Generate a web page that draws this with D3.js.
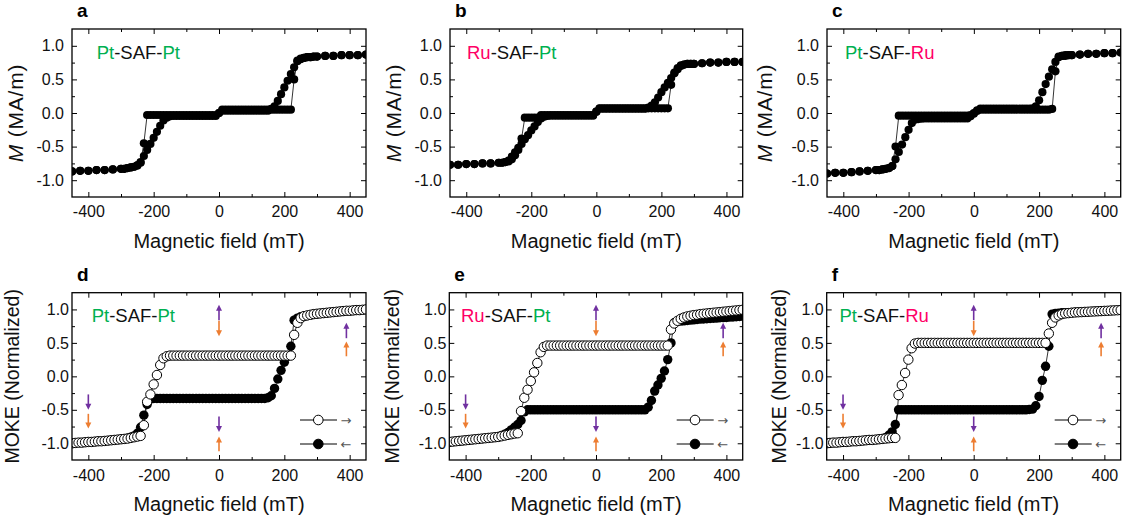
<!DOCTYPE html>
<html>
<head>
<meta charset="utf-8">
<script src="https://cdn.jsdelivr.net/npm/d3@7"></script>
<style>
  body { margin: 0; background: #fff; }
  text { font-family: "Liberation Sans", Arial, sans-serif; }
</style>
</head>
<body>
<script>
// SQUID field grid (mT) and magnetisation branches (MA/m)
const fieldM = [-450,-425,-400,-375,-350,-325,-300,-290,-280,-270,-260,-250,-240,-230,-220,-210,-200,-190,-180,-170,
  -160,-150,-140,-130,-120,-110,-100,-90,-80,-70,-60,-50,-40,-30,-20,-10,0,10,20,30,
  40,50,60,70,80,90,100,110,120,130,140,150,160,170,180,190,200,210,220,230,
  240,250,260,270,280,290,300,325,350,375,400,425,450];

const aUp = [-0.87,-0.86,-0.86,-0.85,-0.85,-0.84,-0.83,
  -0.83,-0.82,-0.81,-0.80,-0.78,
  -0.73,-0.64,-0.55,-0.46,-0.37,-0.28,-0.19,-0.11,-0.07,-0.05,
  -0.045,-0.045,-0.045,-0.045,-0.045,-0.045,-0.045,-0.045,-0.045,-0.045,-0.045,-0.045,-0.045,-0.045,
  0.0,
  0.05,0.05,0.05,0.05,0.05,0.05,0.05,0.05,0.05,0.05,0.05,0.05,0.05,0.05,0.05,0.05,0.05,0.05,0.05,0.05,0.05,0.05,
  0.50,0.78,0.81,0.82,0.83,0.83,0.84,0.84,
  0.85,0.85,0.86,0.86,0.86,0.87];
const aDown = [-0.87,-0.86,-0.86,-0.85,-0.85,-0.84,-0.83,-0.83,-0.82,-0.81,-0.80,
  -0.78,-0.74,-0.45,-0.03,
  -0.03,-0.03,-0.03,-0.03,-0.03,-0.03,-0.03,-0.03,-0.03,-0.03,-0.03,-0.03,-0.03,-0.03,-0.03,-0.03,-0.03,-0.03,-0.03,-0.03,-0.03,
  0.0,
  0.035,0.035,0.035,0.035,0.035,0.035,0.035,0.035,0.035,0.035,0.035,0.035,0.035,0.035,0.035,
  0.06,0.10,0.18,0.28,0.38,0.48,0.58,0.68,0.77,0.80,0.82,0.83,0.83,0.84,0.84,
  0.85,0.85,0.86,0.86,0.86,0.87];

const bUp = [-0.77,-0.77,-0.76,-0.76,-0.75,-0.75,-0.74,
  -0.74,-0.73,-0.71,-0.65,-0.585,
  -0.52,-0.46,-0.39,-0.33,-0.26,-0.20,-0.135,-0.08,-0.055,-0.045,
  -0.04,-0.04,-0.04,-0.04,-0.04,-0.04,-0.04,-0.04,-0.04,-0.04,-0.04,-0.04,-0.04,-0.04,
  0.02,
  0.07,0.07,0.07,0.07,0.07,0.07,0.07,0.07,0.07,0.07,0.07,0.07,0.07,0.07,0.07,0.07,0.07,0.07,0.07,0.07,0.07,0.07,
  0.42,0.60,0.67,0.71,0.72,0.73,0.73,0.73,
  0.74,0.75,0.75,0.76,0.76,0.76];
const bDown = [-0.77,-0.77,-0.76,-0.76,-0.75,-0.75,-0.74,-0.74,-0.73,-0.72,-0.69,
  -0.63,-0.55,-0.38,-0.07,
  -0.07,-0.07,-0.07,-0.07,
  -0.03,-0.03,-0.03,-0.03,-0.03,-0.03,-0.03,-0.03,-0.03,-0.03,-0.03,-0.03,-0.03,-0.03,-0.03,-0.03,-0.03,
  0.02,
  0.065,0.065,0.065,0.065,0.065,0.065,0.065,0.065,0.065,0.065,0.065,0.065,0.065,0.065,0.065,
  0.08,0.11,0.16,0.23,0.31,0.38,0.45,0.52,0.59,0.65,0.70,0.72,0.73,0.73,0.73,
  0.74,0.75,0.75,0.76,0.76,0.76];

const cUp = [-0.90,-0.89,-0.89,-0.88,-0.87,-0.86,-0.85,
  -0.85,-0.84,-0.83,-0.82,-0.79,
  -0.69,-0.58,-0.47,-0.36,-0.25,-0.15,-0.10,-0.09,-0.085,-0.08,
  -0.08,-0.08,-0.08,-0.08,-0.08,-0.08,-0.08,-0.08,-0.08,-0.08,-0.08,-0.08,-0.08,
  -0.05,-0.01,0.03,
  0.05,0.05,0.05,0.05,0.05,0.05,0.05,0.05,0.05,0.05,0.05,0.05,0.05,0.05,0.05,0.05,0.05,0.05,0.05,0.05,0.05,0.05,
  0.06,0.62,0.84,0.85,0.86,0.86,0.86,
  0.87,0.88,0.88,0.89,0.89,0.90];
const cDown = [-0.90,-0.89,-0.89,-0.88,-0.87,-0.86,-0.85,-0.85,-0.84,-0.83,
  -0.82,-0.79,-0.50,-0.04,
  -0.04,-0.04,-0.04,-0.04,-0.04,-0.04,-0.04,-0.04,-0.04,-0.04,-0.04,-0.04,-0.04,-0.04,-0.04,-0.04,-0.04,-0.04,-0.04,-0.04,-0.04,
  -0.03,0.00,0.04,
  0.065,0.065,0.065,0.065,0.065,0.065,0.065,0.065,0.065,0.065,0.065,0.065,0.065,0.065,0.065,0.065,
  0.07,0.10,0.19,0.31,0.43,0.54,0.65,0.76,0.83,0.85,0.85,0.86,0.86,
  0.87,0.88,0.88,0.89,0.89,0.90];

// MOKE field grid (mT) and normalised branches
const fieldK = [-450,-440,-430,-420,-410,-400,-390,-380,-370,-360,-350,-340,-330,-320,-310,-300,-290,-280,-270,-260,
  -250,-240,-230,-220,-210,-200,-190,-180,-170,-160,-150,-140,-130,-120,-110,-100,-90,-80,-70,-60,
  -50,-40,-30,-20,-10,0,10,20,30,40,50,60,70,80,90,100,110,120,130,140,
  150,160,170,180,190,200,210,220,230,240,250,260,270,280,290,300,310,320,330,340,
  350,360,370,380,390,400,410,420,430,440,450];

const dUp = [-1.00,-0.995,-0.99,-0.99,-0.985,-0.98,-0.98,-0.975,-0.97,-0.97,-0.965,-0.96,-0.955,-0.95,-0.945,-0.94,-0.935,-0.93,-0.92,-0.91,-0.90,-0.89,
  -0.73,-0.38,-0.27,-0.12,0.02,0.17,0.27,0.30,0.31,
  0.31,0.31,0.31,0.31,0.31,0.31,0.31,0.31,0.31,0.31,
  0.31,0.31,0.31,0.31,0.31,0.31,0.31,0.31,0.31,0.31,
  0.31,0.31,0.31,0.31,0.31,0.31,0.31,0.31,0.31,0.31,
  0.31,0.31,0.31,0.31,0.31,0.31,0.31,
  0.62,0.80,0.87,0.90,0.91,0.92,0.93,0.935,0.94,0.945,0.95,0.955,0.96,0.965,0.97,0.975,0.98,0.98,0.985,0.99,0.99,0.995,1.00];
const dDown = [-1.00,-0.995,-0.99,-0.99,-0.985,-0.98,-0.98,-0.975,-0.97,-0.97,-0.965,-0.96,-0.955,-0.95,-0.945,-0.94,-0.935,
  -0.925,-0.91,-0.89,-0.85,-0.76,-0.58,-0.42,-0.34,
  -0.33,-0.33,-0.33,-0.33,-0.33,-0.33,-0.33,-0.33,-0.33,-0.33,
  -0.33,-0.33,-0.33,-0.33,-0.33,-0.33,-0.33,-0.33,-0.33,-0.33,
  -0.33,-0.33,-0.33,-0.33,-0.33,-0.33,-0.33,-0.33,-0.33,-0.33,
  -0.33,-0.33,-0.33,-0.33,-0.33,
  -0.32,-0.29,-0.18,-0.04,0.09,0.21,0.30,0.45,0.84,0.87,0.89,0.90,
  0.91,0.92,0.93,0.935,0.94,0.945,0.95,0.955,0.96,0.965,0.97,0.975,0.98,0.98,0.985,0.99,0.99,0.995,1.00];

const eUp = [-0.98,-0.975,-0.97,-0.965,-0.96,-0.955,-0.95,-0.945,-0.94,-0.935,-0.93,-0.925,-0.92,-0.915,-0.91,-0.905,-0.895,-0.885,-0.875,-0.865,-0.855,-0.85,
  -0.52,-0.32,-0.20,-0.07,0.06,0.20,0.36,0.44,0.46,
  0.46,0.46,0.46,0.46,0.46,0.46,0.46,0.46,0.46,0.46,
  0.46,0.46,0.46,0.46,0.46,0.46,0.46,0.46,0.46,0.46,
  0.46,0.46,0.46,0.46,0.46,0.46,0.46,0.46,0.46,0.46,
  0.46,0.46,0.46,0.46,0.46,0.46,0.46,
  0.70,0.79,0.83,0.86,0.88,0.895,0.905,0.915,0.92,0.93,0.935,0.94,0.945,0.95,0.955,0.96,0.965,0.97,0.975,0.98,0.985,0.99,0.995];
const eDown = [-0.98,-0.975,-0.97,-0.965,-0.96,-0.955,-0.95,-0.945,-0.94,-0.935,-0.93,-0.925,-0.92,-0.915,-0.91,
  -0.90,-0.885,-0.865,-0.84,-0.80,-0.76,-0.72,-0.66,-0.53,-0.50,
  -0.50,-0.50,-0.50,-0.50,-0.50,-0.50,-0.50,-0.50,-0.50,-0.50,
  -0.50,-0.50,-0.50,-0.50,-0.50,-0.50,-0.50,-0.50,-0.50,-0.50,
  -0.50,-0.50,-0.50,-0.50,-0.50,-0.50,-0.50,-0.50,-0.50,-0.50,
  -0.50,-0.50,-0.50,-0.50,-0.50,-0.50,
  -0.46,-0.36,-0.22,-0.13,-0.03,0.08,0.25,0.50,0.80,0.82,0.825,0.83,0.835,0.84,0.845,0.85,0.855,0.858,0.86,0.865,
  0.868,0.87,0.875,0.878,0.88,0.885,0.888,0.89,0.895,0.90];

const fUp = [-1.00,-0.995,-0.99,-0.99,-0.985,-0.98,-0.98,-0.975,-0.97,-0.97,-0.965,-0.96,-0.955,-0.95,-0.95,-0.945,-0.94,-0.935,-0.93,-0.925,-0.92,-0.92,
  -0.28,-0.13,0.05,0.25,0.42,0.49,0.50,
  0.50,0.50,0.50,0.50,0.50,0.50,0.50,0.50,0.50,0.50,
  0.50,0.50,0.50,0.50,0.50,0.50,0.50,0.50,0.50,0.50,
  0.50,0.50,0.50,0.50,0.50,0.50,0.50,0.50,0.50,0.50,
  0.50,0.50,0.50,0.50,0.50,0.50,0.50,0.50,0.50,
  0.64,0.80,0.88,0.91,0.93,0.94,0.945,0.95,0.955,0.958,0.96,0.963,0.965,0.968,0.97,0.973,0.975,0.978,0.98,0.983,0.985,0.988,0.99];
const fDown = [-1.00,-0.995,-0.99,-0.99,-0.985,-0.98,-0.98,-0.975,-0.97,-0.97,-0.965,-0.96,-0.955,-0.95,-0.95,-0.945,-0.94,-0.935,
  -0.915,-0.88,-0.83,-0.72,-0.50,
  -0.50,-0.50,-0.50,-0.50,-0.50,-0.50,-0.50,-0.50,-0.50,-0.50,
  -0.50,-0.50,-0.50,-0.50,-0.50,-0.50,-0.50,-0.50,-0.50,-0.50,
  -0.50,-0.50,-0.50,-0.50,-0.50,-0.50,-0.50,-0.50,-0.50,-0.50,
  -0.50,-0.50,-0.50,-0.50,-0.50,-0.50,-0.50,-0.50,-0.50,
  -0.495,-0.49,-0.44,-0.30,-0.06,0.15,0.45,0.93,0.94,
  0.945,0.95,0.95,0.952,0.955,0.958,0.96,0.962,0.965,0.967,0.97,0.972,0.975,0.977,0.98,0.982,0.984,0.986,0.988,0.99];

// ticks
const xMajor = [-400, -200, 0, 200, 400];
const xMinor = [-300, -100, 100, 300];
const yMajor = [-1, -0.5, 0, 0.5, 1];
const yMinor = [-0.75, -0.25, 0.25, 0.75];

// field-direction arrows drawn in the MOKE panels (field, start, end, colour)
const arrowField = [-400, -400, 0, 0, 0, 0, 390, 390];
const arrowStart = [-0.27, -0.56, 0.84, 0.83, -0.60, -1.12, 0.57, 0.30];
const arrowEnd   = [-0.50, -0.78, 1.07, 0.60, -0.83, -0.90, 0.80, 0.52];
const arrowKind  = ['top', 'bottom', 'top', 'bottom', 'top', 'bottom', 'top', 'bottom'];

const GREEN = '#00b050', PINK = '#ff0066', PURPLE = '#7030a0', ORANGE = '#ed7d31';
const PT = ['Pt', GREEN], RU = ['Ru', PINK], SAF = ['-SAF-', '#111'];

const panels = [
  {id: 'a', x0: 72, x1: 366, y0: 29, y1: 197, field: fieldM, up: aUp, down: aDown, moke: false,
    label: [PT, SAF, PT], lx: 24.7, ytx: 16, gap: 8},
  {id: 'b', x0: 450, x1: 742.7, y0: 29, y1: 197, field: fieldM, up: bUp, down: bDown, moke: false,
    label: [RU, SAF, PT], lx: 17, ytx: 394, gap: 8},
  {id: 'c', x0: 827, x1: 1120.7, y0: 29, y1: 197, field: fieldM, up: cUp, down: cDown, moke: false,
    label: [PT, SAF, RU], lx: 18, ytx: 765, gap: 8},
  {id: 'd', x0: 72, x1: 366, y0: 292.7, y1: 460, field: fieldK, up: dUp, down: dDown, moke: true,
    label: [PT, SAF, PT], lx: 19.7, ytx: 12, gap: 3},
  {id: 'e', x0: 449.3, x1: 742.7, y0: 292.7, y1: 460, field: fieldK, up: eUp, down: eDown, moke: true,
    label: [RU, SAF, PT], lx: 11.7, ytx: 392, gap: 3},
  {id: 'f', x0: 826.7, x1: 1120.7, y0: 292.7, y1: 460, field: fieldK, up: fUp, down: fDown, moke: true,
    label: [PT, SAF, RU], lx: 12.7, ytx: 779, gap: 3}
];

const svg = d3.select('body')
  .append('svg')
  .attr('width', 1126)
  .attr('height', 525);

const defs = svg.append('defs');

panels.forEach(p => {
  const x = d3.scaleLinear().domain([-450, 450]).range([p.x0, p.x1]);
  const y = d3.scaleLinear().domain([-1.25, 1.25]).range([p.y1, p.y0]);
  const g = svg.append('g').attr('class', 'panel-' + p.id);

  defs.append('clipPath').attr('id', 'clip-' + p.id)
    .append('rect')
    .attr('x', p.x0).attr('y', p.y0)
    .attr('width', p.x1 - p.x0).attr('height', p.y1 - p.y0);

  // axes, ticks pointing inwards on all four sides
  const bottomPad = p.moke ? 10 : 8.5;
  g.append('g').attr('transform', `translate(0,${p.y1})`)
    .call(d3.axisBottom(x).tickValues(xMajor).tickSize(-5).tickPadding(bottomPad).tickFormat(d => String(d)));
  g.append('g').attr('transform', `translate(0,${p.y1})`)
    .call(d3.axisBottom(x).tickValues(xMinor).tickSize(-3).tickFormat(''));
  g.append('g').attr('transform', `translate(0,${p.y0})`)
    .call(d3.axisTop(x).tickValues(xMajor).tickSize(-5).tickFormat(''));
  g.append('g').attr('transform', `translate(0,${p.y0})`)
    .call(d3.axisTop(x).tickValues(xMinor).tickSize(-3).tickFormat(''));
  g.append('g').attr('transform', `translate(${p.x0},0)`)
    .call(d3.axisLeft(y).tickValues(yMajor).tickSize(-5).tickPadding(p.gap).tickFormat(d => d.toFixed(1)));
  g.append('g').attr('transform', `translate(${p.x0},0)`)
    .call(d3.axisLeft(y).tickValues(yMinor).tickSize(-3).tickFormat(''));
  g.append('g').attr('transform', `translate(${p.x1},0)`)
    .call(d3.axisRight(y).tickValues(yMajor).tickSize(-5).tickFormat(''));
  g.append('g').attr('transform', `translate(${p.x1},0)`)
    .call(d3.axisRight(y).tickValues(yMinor).tickSize(-3).tickFormat(''));

  g.selectAll('.domain').remove();
  g.selectAll('.tick line').attr('stroke', '#000').attr('stroke-width', 1);
  g.selectAll('.tick text').attr('fill', '#111').style('font-size', '16px')
    .style('font-family', '"Liberation Sans", Arial, sans-serif');

  // data
  const plot = g.append('g').attr('clip-path', `url(#clip-${p.id})`);
  const line = d3.line().x((d, i) => x(p.field[i])).y(d => y(d));
  [p.down, p.up].forEach(s => {
    plot.append('path').datum(s)
      .attr('d', line)
      .attr('fill', 'none')
      .attr('stroke', '#000')
      .attr('stroke-width', 0.8);
  });

  const r = p.moke ? 4.7 : 4.1;
  plot.append('g').selectAll('circle')
    .data(p.down)
    .join('circle')
    .attr('cx', (d, i) => x(p.field[i]))
    .attr('cy', d => y(d))
    .attr('r', r)
    .attr('fill', '#000');

  plot.append('g').selectAll('circle')
    .data(p.up)
    .join('circle')
    .attr('cx', (d, i) => x(p.field[i]))
    .attr('cy', d => y(d))
    .attr('r', r)
    .attr('fill', p.moke ? '#fff' : '#000')
    .attr('stroke', p.moke ? '#000' : 'none')
    .attr('stroke-width', 1);

  // frame
  g.append('rect')
    .attr('x', p.x0).attr('y', p.y0)
    .attr('width', p.x1 - p.x0).attr('height', p.y1 - p.y0)
    .attr('fill', 'none').attr('stroke', '#000').attr('stroke-width', 1.3);

  // panel letter
  g.append('text')
    .attr('x', p.x0 + 5).attr('y', p.y0 - 12)
    .style('font-size', '19px').style('font-weight', 'bold')
    .text(p.id);

  // stack label
  const lab = g.append('text')
    .attr('x', p.x0 + p.lx).attr('y', p.y0 + 29.5)
    .style('font-size', '18.5px');
  p.label.forEach(([t, c]) => lab.append('tspan').attr('fill', c).text(t));

  // axis titles
  g.append('text')
    .attr('x', (p.x0 + p.x1) / 2).attr('y', p.y1 + 51)
    .attr('text-anchor', 'middle')
    .style('font-size', '20px').attr('fill', '#111')
    .text('Magnetic field (mT)');

  const yt = g.append('text')
    .attr('transform', `translate(${p.ytx + 7},${(p.y0 + p.y1) / 2}) rotate(-90)`)
    .attr('text-anchor', 'middle')
    .attr('fill', '#111');
  if (p.moke) {
    yt.style('font-size', '19.5px').text('MOKE (Normalized)');
  } else {
    yt.style('font-size', '21px').style('letter-spacing', '0.8px');
    yt.append('tspan').style('font-style', 'italic').text('M');
    yt.append('tspan').text(' (MA/m)');
  }

  if (!p.moke) return;

  // field / magnetisation arrows
  arrowField.forEach((f, i) => {
    const col = arrowKind[i] === 'top' ? PURPLE : ORANGE;
    const ax = x(f), ys = y(arrowStart[i]), ye = y(arrowEnd[i]);
    const dir = ye < ys ? -1 : 1;
    g.append('line')
      .attr('x1', ax).attr('x2', ax)
      .attr('y1', ys).attr('y2', ye - dir * 4)
      .attr('stroke', col).attr('stroke-width', 1.6);
    g.append('path')
      .attr('d', `M${ax},${ye} L${ax - 3},${ye - dir * 6} L${ax + 3},${ye - dir * 6} Z`)
      .attr('fill', col);
  });

  // legend
  const rows = [{open: true, glyph: '\u2192', dy: 40}, {open: false, glyph: '\u2190', dy: 16}];
  rows.forEach(row => {
    const ly = p.y1 - row.dy;
    g.append('line')
      .attr('x1', p.x1 - 66).attr('x2', p.x1 - 29)
      .attr('y1', ly).attr('y2', ly)
      .attr('stroke', '#000').attr('stroke-width', 1);
    g.append('circle')
      .attr('cx', p.x1 - 47.7).attr('cy', ly).attr('r', 4.8)
      .attr('fill', row.open ? '#fff' : '#000')
      .attr('stroke', '#000').attr('stroke-width', 1);
    g.append('text')
      .attr('x', p.x1 - 20).attr('y', ly + 4.5)
      .attr('text-anchor', 'middle')
      .style('font-family', '"DejaVu Sans", sans-serif')
      .style('font-size', '13px').attr('fill', '#555')
      .text(row.glyph);
  });
});
</script>
</body>
</html>
